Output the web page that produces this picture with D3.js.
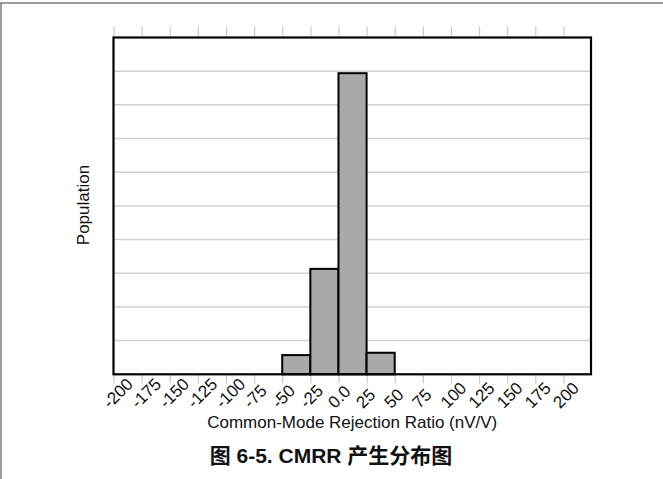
<!DOCTYPE html>
<html>
<head>
<meta charset="utf-8">
<script src="https://cdn.jsdelivr.net/npm/d3@7/dist/d3.min.js"></script>
<style>
html,body{margin:0;padding:0;background:#fff;}
svg{display:block;}
text{font-family:"Liberation Sans",Arial,sans-serif;fill:#111;}
</style>
</head>
<body>
<svg id="chart" width="663" height="479"></svg>
<script>
// Data
const binStarts = [-50, -25, 0, 25];
const binWidth = 25;
const counts = [0.57, 3.13, 8.94, 0.64];
const xTicks = [-200,-175,-150,-125,-100,-75,-50,-25,0,25,50,75,100,125,150,175,200];
const xTickLabels = ["-200","-175","-150","-125","-100","-75","-50","-25","0.0","25","50","75","100","125","150","175","200"];
const yGrid = [1,2,3,4,5,6,7,8,9];
const xTitle = "Common-Mode Rejection Ratio (nV/V)";
const yTitle = "Population";
const caption = "图 6-5. CMRR 产生分布图";

const svg = d3.select("#chart");
const W = 663, H = 479;
const pL = 113.5, pR = 591, pT = 37.5, pB = 374.3;

const x = d3.scaleLinear().domain([-200, 224.5]).range([pL, pR]);
const y = d3.scaleLinear().domain([0, 10]).range([pB, pT]);

// Page frame lines
svg.append("line").attr("x1",0).attr("x2",W).attr("y1",3).attr("y2",3)
  .attr("stroke","#7a7a7a").attr("stroke-width",1.5);
svg.append("line").attr("x1",1).attr("x2",1).attr("y1",3).attr("y2",H)
  .attr("stroke","#7a7a7a").attr("stroke-width",1.5);

// gridlines
svg.append("g").selectAll("line").data(yGrid).join("line")
  .attr("x1",pL).attr("x2",pR)
  .attr("y1",d=>y(d)).attr("y2",d=>y(d))
  .attr("stroke","#d2d2d2").attr("stroke-width",1.5);

// top ticks
const topAxis = d3.axisTop(x).tickValues(xTicks).tickSize(10).tickFormat("");
const gTop = svg.append("g").attr("transform",`translate(0,${pT-1})`).call(topAxis);
gTop.select(".domain").remove();
gTop.selectAll(".tick line").attr("stroke","#c8c8c8").attr("stroke-width",1.2);

// bottom ticks + labels
const botAxis = d3.axisBottom(x).tickValues(xTicks).tickSize(8)
  .tickFormat((d,i)=>xTickLabels[i]);
const gBot = svg.append("g").attr("transform",`translate(0,${pB+1})`)
  .attr("font-size",17).call(botAxis);
gBot.attr("font-size",17).attr("font-family","'Liberation Sans',Arial,sans-serif");
gBot.select(".domain").remove();
gBot.selectAll(".tick line").attr("stroke","#c8c8c8").attr("stroke-width",1.2);
gBot.selectAll(".tick text")
  .style("font-size","17px")
  .attr("fill","#111")
  .attr("text-anchor","start")
  .attr("dy",null).attr("y",null)
  .attr("transform","translate(-4,34) rotate(-45)");

// bars
svg.append("g").selectAll("rect").data(binStarts).join("rect")
  .attr("x",(d)=>x(d))
  .attr("width",(d)=>x(d+binWidth)-x(d))
  .attr("y",(d,i)=>y(counts[i]))
  .attr("height",(d,i)=>y(0)-y(counts[i]))
  .attr("fill","#a9a9a9").attr("stroke","#000").attr("stroke-width",2);

// plot border
svg.append("rect").attr("x",pL).attr("y",pT)
  .attr("width",pR-pL).attr("height",pB-pT)
  .attr("fill","none").attr("stroke","#000").attr("stroke-width",2.2);

// axis titles
svg.append("text").attr("x",(pL+pR)/2).attr("y",428)
  .attr("text-anchor","middle").attr("font-size",17).text(xTitle);
svg.append("text").attr("transform",`translate(89,205) rotate(-90)`)
  .attr("text-anchor","middle").attr("font-size",17).text(yTitle);

// caption
svg.append("text").attr("x",331).attr("y",463)
  .attr("text-anchor","middle").attr("font-size",21).attr("font-weight","bold")
  .style("font-family","'Liberation Sans','Noto Sans CJK SC',sans-serif")
  .text(caption);
</script>
</body>
</html>
